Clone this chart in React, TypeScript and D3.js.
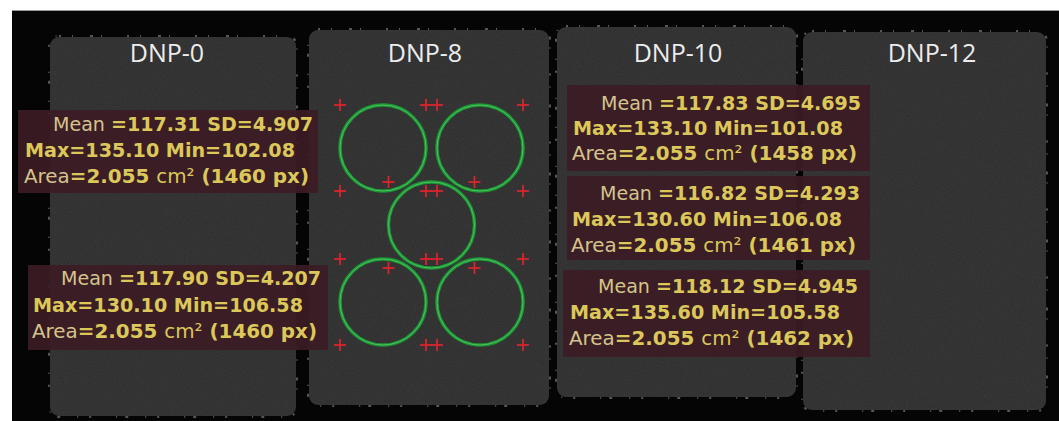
import React from 'react';
import * as d3 from 'd3';

// phantom names
const panelNames = ['DNP-0', 'DNP-8', 'DNP-10', 'DNP-12'];

// ROI statistics, in the order they appear (DNP-0 top, DNP-0 bottom, DNP-10 x3)
const roiPanel = ['DNP-0', 'DNP-0', 'DNP-10', 'DNP-10', 'DNP-10'];
const roiMean = ['117.31', '117.90', '117.83', '116.82', '118.12'];
const roiSD = ['4.907', '4.207', '4.695', '4.293', '4.945'];
const roiMax = ['135.10', '130.10', '133.10', '130.60', '135.60'];
const roiMin = ['102.08', '106.58', '101.08', '106.08', '105.58'];
const roiArea = ['2.055', '2.055', '2.055', '2.055', '2.055'];
const roiPx = ['1460', '1460', '1458', '1461', '1462'];

// ROI circles drawn on DNP-8, as grid cells (col, row)
const circleCols = [0, 2, 1, 0, 2];
const circleRows = [0, 0, 1, 2, 2];

const W = 1059;
const H = 421;

// where each phantom sits in the image
const panelLayout: Record<string, { x0: number; x1: number; y0: number; y1: number; tx: number }> = {
  'DNP-0': { x0: 50, x1: 296, y0: 37, y1: 416, tx: 167 },
  'DNP-8': { x0: 309, x1: 549, y0: 30, y1: 405, tx: 425 },
  'DNP-10': { x0: 557, x1: 796, y0: 27, y1: 397, tx: 678 },
  'DNP-12': { x0: 803, x1: 1046, y0: 32, y1: 410, tx: 932 },
};

// annotation boxes: rect and text origin
const boxLayout = [
  { x: 18, y: 110, w: 300, h: 83, tx: 25, b: 131, dy: 26 },
  { x: 28, y: 265, w: 300, h: 85, tx: 33, b: 285, dy: 26.5 },
  { x: 567, y: 85, w: 303, h: 86, tx: 573, b: 110, dy: 25 },
  { x: 567, y: 176, w: 303, h: 84, tx: 572, b: 200, dy: 26 },
  { x: 563, y: 270, w: 307, h: 87, tx: 570, b: 293, dy: 26 },
];

const gx = d3.scaleLinear().domain([0, 2]).range([383, 480]);
const gy = d3.scaleLinear().domain([0, 2]).range([148, 302]);
const R = 43;

const yellow = '#dcc85a';
const pale = '#d4c48c';
const font = '"DejaVu Sans", Verdana, sans-serif';

const App: React.FC = () => {
  const crosses: [number, number][] = [];
  circleCols.forEach((c, i) => {
    const cx = gx(c);
    const cy = gy(circleRows[i]);
    [-R, R].forEach((ox) => [-R, R].forEach((oy) => crosses.push([cx + ox, cy + oy])));
  });

  return (
    <div style={{ position: 'absolute', left: 0, top: 0 }}>
      <svg width={W} height={H} style={{ display: 'block', background: '#fff' }}>
        <defs>
          <filter id="grain" x="0" y="0" width="100%" height="100%">
            <feTurbulence type="fractalNoise" baseFrequency="0.9" numOctaves={2} seed={3} />
            <feColorMatrix type="matrix" values="0 0 0 0 1  0 0 0 0 1  0 0 0 0 1  0 0 0 0.07 0" />
            <feComposite in2="SourceGraphic" operator="in" />
          </filter>
        </defs>
        <rect x={12} y={10} width={W - 12} height={H - 10} fill="#050505" />
        <line x1={12} x2={W} y1={10.5} y2={10.5} stroke="#9a9a9a" strokeWidth={1} />

        {panelNames.map((n) => {
          const p = panelLayout[n];
          return (
            <g key={n}>
              <rect x={p.x0} y={p.y0} width={p.x1 - p.x0} height={p.y1 - p.y0} rx={9} fill="#2c2c2d" />
              <rect x={p.x0} y={p.y0} width={p.x1 - p.x0} height={p.y1 - p.y0} rx={9} fill="#2c2c2d" filter="url(#grain)" />
              <rect
                x={p.x0 - 1}
                y={p.y0 - 1}
                width={p.x1 - p.x0 + 2}
                height={p.y1 - p.y0 + 2}
                rx={10}
                fill="none"
                stroke="#cfcfcf"
                strokeOpacity={0.4}
                strokeWidth={2}
                strokeDasharray="2 11 1 17 3 8 1 25"
              />
              <text
                x={p.tx}
                y={62}
                textAnchor="middle"
                fontFamily='"Open Sans", sans-serif'
                fontSize={25}
                fill="#ececec"
              >
                {n}
              </text>
            </g>
          );
        })}

        {circleCols.map((c, i) => (
          <g key={'c' + i}>
            <circle cx={gx(c)} cy={gy(circleRows[i])} r={R} fill="none" stroke="#1b9634" strokeWidth={3.4} />
            <circle cx={gx(c)} cy={gy(circleRows[i])} r={R} fill="none" stroke="#5ccb68" strokeWidth={0.8} />
          </g>
        ))}
        {crosses.map(([x, y], i) => (
          <g key={'x' + i} stroke="#e3232b" strokeWidth={1.7}>
            <line x1={x - 6} x2={x + 6} y1={y} y2={y} />
            <line x1={x} x2={x} y1={y - 6} y2={y + 6} />
          </g>
        ))}

        {roiPanel.map((_, i) => {
          const b = boxLayout[i];
          return (
            <g key={'b' + i} fontFamily={font} fontSize={20}>
              <rect x={b.x} y={b.y} width={b.w} height={b.h} fill="#3c1c24" fillOpacity={0.92} />
              <text x={b.tx + 28} y={b.b} textLength={260} lengthAdjust="spacingAndGlyphs" fill={yellow}>
                <tspan fill={pale}>Mean </tspan>
                <tspan fontWeight="bold">{`=${roiMean[i]} SD=${roiSD[i]}`}</tspan>
              </text>
              <text x={b.tx} y={b.b + b.dy} textLength={270} lengthAdjust="spacingAndGlyphs" fill={yellow} fontWeight="bold">
                {`Max=${roiMax[i]} Min=${roiMin[i]}`}
              </text>
              <text x={b.tx - 1} y={b.b + 2 * b.dy} textLength={285} lengthAdjust="spacingAndGlyphs" fill={yellow}>
                <tspan fill={pale}>Area</tspan>
                <tspan fontWeight="bold">{`=${roiArea[i]} `}</tspan>
                <tspan>cm²</tspan>
                <tspan fontWeight="bold">{` (${roiPx[i]} px)`}</tspan>
              </text>
            </g>
          );
        })}
      </svg>
    </div>
  );
};

export default App;
